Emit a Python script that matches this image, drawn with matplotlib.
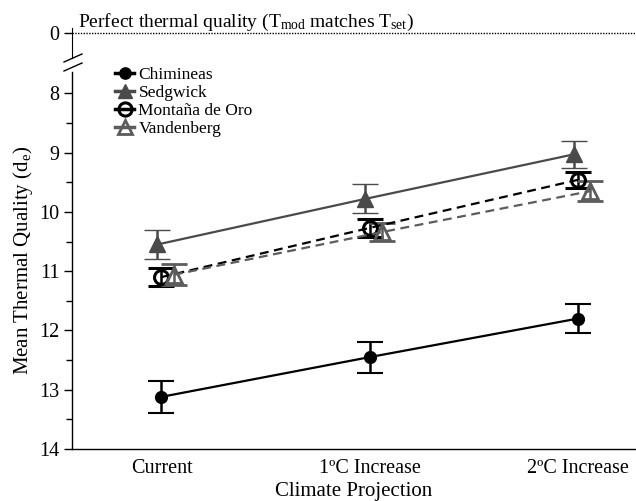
import numpy as np
import matplotlib

matplotlib.use("Agg")
import matplotlib.pyplot as plt
from matplotlib.lines import Line2D

plt.rcParams["font.family"] = ["Liberation Serif", "DejaVu Serif"]
plt.rcParams["mathtext.fontset"] = "custom"
plt.rcParams["mathtext.rm"] = "Liberation Serif"
plt.rcParams["mathtext.it"] = "Liberation Serif:italic"

# ---------------------------------------------------------------------------
# Data
# ---------------------------------------------------------------------------
projections = ["Current", "1ºC Increase", "2ºC Increase"]
sites = ["Chimineas", "Sedgwick", "Montaña de Oro", "Vandenberg"]

chimineas_mean = [13.12, 12.45, 11.80]
chimineas_se = [0.27, 0.26, 0.25]
sedgwick_mean = [10.55, 9.78, 9.03]
sedgwick_se = [0.245, 0.245, 0.23]
montana_mean = [11.10, 10.27, 9.46]
montana_se = [0.15, 0.15, 0.14]
vandenberg_mean = [11.06, 10.34, 9.65]
vandenberg_se = [0.18, 0.15, 0.17]

# ---------------------------------------------------------------------------
# Styles
# ---------------------------------------------------------------------------
styles = {
    "Chimineas": dict(color="black", ls="-", marker="o", ms=8, mfc="black",
                      mec="black", mew=1.5, dx=0.0),
    "Sedgwick": dict(color="#4a4a4a", ls="-", marker="^", ms=11, mfc="#4a4a4a",
                     mec="#4a4a4a", mew=1.0, dx=-0.02),
    "Montaña de Oro": dict(color="black", ls="--", marker="o", ms=10, mfc="none",
                           mec="black", mew=2.2, dx=0.0),
    "Vandenberg": dict(color="#5c5c5c", ls="--", marker="^", ms=11, mfc="none",
                       mec="#5c5c5c", mew=2.0, dx=0.06),
}
series = {
    "Chimineas": (chimineas_mean, chimineas_se),
    "Sedgwick": (sedgwick_mean, sedgwick_se),
    "Montaña de Oro": (montana_mean, montana_se),
    "Vandenberg": (vandenberg_mean, vandenberg_se),
}

W, H = 636, 501
fig = plt.figure(figsize=(W / 100, H / 100), dpi=100)


def px_axes(left, top, right, bottom):
    return fig.add_axes([left / W, 1 - bottom / H, (right - left) / W, (bottom - top) / H])


ax = px_axes(72, 72, 636, 449)       # main panel
ax_top = px_axes(72, 28, 636, 58)    # broken-off strip showing 0

x = np.arange(len(projections))
for name in sites:
    mean, se = series[name]
    st = styles[name]
    ax.errorbar(x + st["dx"], mean, yerr=se, color=st["color"], ls=st["ls"],
                lw=1.6, marker=st["marker"], ms=st["ms"], mfc=st["mfc"],
                mec=st["mec"], mew=st["mew"], capsize=9.5, capthick=1.8,
                elinewidth=1.8, ecolor=st["color"], dashes=(4, 2.5) if st["ls"] == "--" else (None, None))

ax.set_xlim(-0.43, 2.28)
ax.set_ylim(14, 7.64)
ax.set_xticks(x)
ax.set_xticklabels(projections, fontsize=14.5)
ax.tick_params(axis="x", length=0, pad=7)
ax.set_yticks(np.arange(8, 15))
ax.set_yticks(np.arange(8.5, 14, 1.0), minor=True)
ax.tick_params(axis="y", which="major", length=6, width=1.0, labelsize=14.5, pad=3)
ax.tick_params(axis="y", which="minor", length=4, width=1.0)
for s in ["top", "right"]:
    ax.spines[s].set_visible(False)
ax.spines["left"].set_linewidth(1.0)
ax.spines["bottom"].set_linewidth(1.0)
ax.set_xlabel("Climate Projection", fontsize=15, labelpad=3)
ax.set_ylabel("Mean Thermal Quality (d$_{\\rm e}$)", fontsize=15, labelpad=3)

# top strip with the "perfect" reference line
ax_top.set_xlim(-0.43, 2.28)
ax_top.set_ylim(1.0, -0.2)
ax_top.set_yticks([0])
ax_top.set_xticks([])
ax_top.tick_params(axis="y", length=6, width=1.0, labelsize=14.5, pad=3)
for s in ["top", "right", "bottom"]:
    ax_top.spines[s].set_visible(False)
ax_top.patch.set_visible(False)
ax_top.axhline(0, color="black", ls=(0, (1, 1)), lw=1.0)
ax_top.text(0.01, 0.0, "Perfect thermal quality (T$_{\\rm mod}$ matches T$_{\\rm set}$)",
            transform=ax_top.get_yaxis_transform(), fontsize=14, va="bottom", ha="left")

# axis-break marks
for yb in (58, 67):
    fig.add_artist(Line2D([(64) / W, (82) / W], [1 - (yb + 4) / H, 1 - (yb - 4) / H],
                          color="black", lw=1.0))

# legend
handles = []
for name in sites:
    st = styles[name]
    handles.append(Line2D([], [], color=st["color"], ls="-", lw=2.5, marker=st["marker"],
                          ms=st["ms"] * 0.95, mfc=st["mfc"], mec=st["mec"], mew=st["mew"]))
fig.legend(handles, sites, loc="upper left", bbox_to_anchor=(115 / W, 1 - 67 / H),
           frameon=False, fontsize=12.5, handlelength=1.1, handletextpad=0.25,
           labelspacing=0.1, borderaxespad=0, borderpad=0)

fig.savefig("out.png", dpi=100)
